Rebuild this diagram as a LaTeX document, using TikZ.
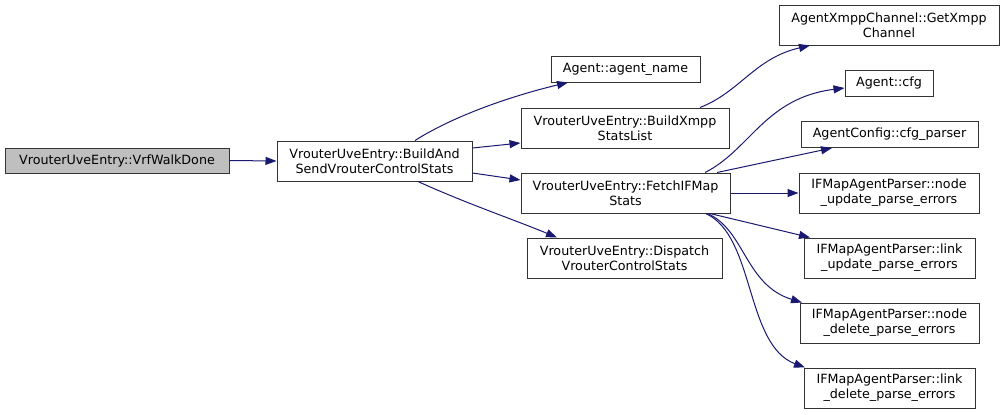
\documentclass[tikz,border=0pt]{standalone}
\usepackage{fontspec}
\setmainfont{DejaVu Sans}
\usetikzlibrary{arrows.meta}
\definecolor{edgeblue}{HTML}{191970}
\definecolor{rootgray}{HTML}{BFBFBF}
\begin{document}
\begin{tikzpicture}[x=1pt,y=-1pt,
  fbox/.style={draw=black!80, line width=1pt, fill=white, inner sep=0pt, align=center,
    font=\fontsize{12.7pt}{15pt}\selectfont},
  call/.style={draw=edgeblue, line width=1pt, -{Triangle[length=11pt,width=8pt]}}]
\useasboundingbox (0,0) rectangle (1005,415);
\node[fbox, fill=rootgray, minimum width=224pt, minimum height=25pt] (walk) at (117,160.5) {VrouterUveEntry::VrfWalkDone};
\node[fbox, minimum width=195pt, minimum height=40pt] (bas) at (374.5,161) {VrouterUveEntry::BuildAnd\\SendVrouterControlStats};
\node[fbox, minimum width=149pt, minimum height=26pt] (aname) at (625.5,69) {Agent::agent\_name};
\node[fbox, minimum width=208pt, minimum height=40pt] (bxmpp) at (625,128) {VrouterUveEntry::BuildXmpp\\StatsList};
\node[fbox, minimum width=209pt, minimum height=40pt] (fetch) at (625.5,193) {VrouterUveEntry::FetchIFMap\\Stats};
\node[fbox, minimum width=195pt, minimum height=40pt] (disp) at (624.5,258) {VrouterUveEntry::Dispatch\\VrouterControlStats};
\node[fbox, minimum width=220pt, minimum height=40pt] (getx) at (889,25) {AgentXmppChannel::GetXmpp\\Channel};
\node[fbox, minimum width=88pt, minimum height=26pt] (acfg) at (889,83) {Agent::cfg};
\node[fbox, minimum width=177pt, minimum height=26pt] (cfgp) at (889.5,134.5) {AgentConfig::cfg\_parser};
\node[fbox, minimum width=180pt, minimum height=40pt] (nupd) at (889,193) {IFMapAgentParser::node\\\_update\_parse\_errors};
\node[fbox, minimum width=171pt, minimum height=40pt] (lupd) at (889.5,258) {IFMapAgentParser::link\\\_update\_parse\_errors};
\node[fbox, minimum width=179pt, minimum height=40pt] (ndel) at (889.5,323) {IFMapAgentParser::node\\\_delete\_parse\_errors};
\node[fbox, minimum width=171pt, minimum height=40pt] (ldel) at (889.5,388) {IFMapAgentParser::link\\\_delete\_parse\_errors};

\draw[call] (walk.east) -- (bas.west);
\draw[call] ([xshift=40.5pt]bas.north) .. controls (455,115) and (515,95) .. ([xshift=-57.5pt]aname.south);
\draw[call] ([yshift=13pt]bas.east) -- ([yshift=-15pt]bxmpp.west);
\draw[call] ([yshift=-12pt]bas.east) -- ([yshift=13pt]fetch.west);
\draw[call] ([xshift=43.5pt]bas.south) .. controls (465,203) and (515,220) .. ([xshift=-67.5pt]disp.north);
\draw[call] ([xshift=75pt]bxmpp.north) .. controls (740,92) and (755,58) .. ([xshift=-79pt]getx.south);
\draw[call] ([xshift=79.5pt]fetch.north) .. controls (750,150) and (765,98) .. ([yshift=-5pt]acfg.west);
\draw[call] ([xshift=91.5pt]fetch.north) -- ([xshift=-57.5pt]cfgp.south);
\draw[call] (fetch.east) -- (nupd.west);
\draw[call] ([xshift=84.5pt]fetch.south) -- ([xshift=-79.5pt]lupd.north);
\draw[call] ([xshift=82pt]fetch.south) .. controls (745,230) and (745,285) .. ([xshift=-87.5pt]ndel.north);
\draw[call] ([xshift=80pt]fetch.south) .. controls (755,235) and (745,345) .. ([xshift=-84.5pt]ldel.north);
\end{tikzpicture}
\end{document}
